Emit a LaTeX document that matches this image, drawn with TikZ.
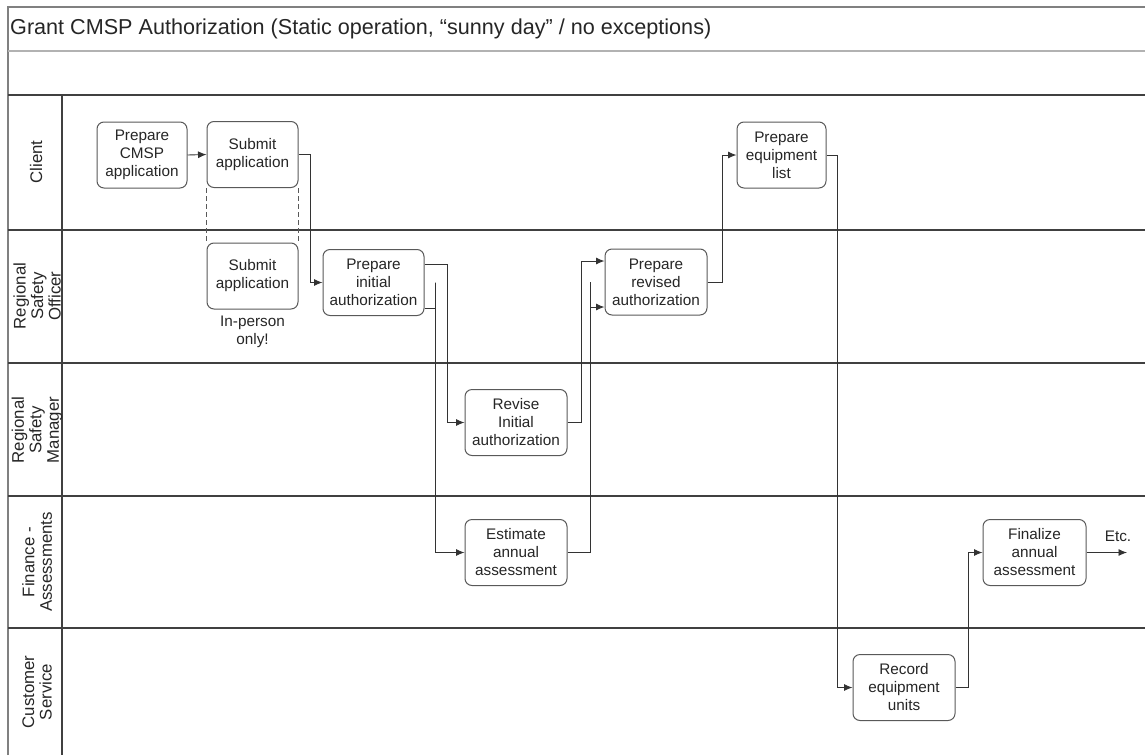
\documentclass[tikz,border=0pt]{standalone}
\usepackage{fontspec}
\setmainfont{Liberation Sans}
\usetikzlibrary{arrows.meta,calc}
\begin{document}
\begin{tikzpicture}[x=1pt,y=-1pt,
  txt/.style={text=black!85, font=\fontsize{15.3}{18}\selectfont},
  proc/.style={txt, draw=black!65, line width=1pt, rounded corners=7pt, fill=white,
     align=center, inner sep=0pt, minimum width=#1, minimum height=66pt},
  proc/.default=102pt,
  flow/.style={draw=black!80, line width=0.9pt, -{Latex[length=8.5pt,width=7pt]}},
  lane/.style={draw=black!75, line width=1.6pt},
  lanelabel/.style={txt, font=\fontsize{16.8}{17.5}\selectfont, rotate=90, align=center}
]
\useasboundingbox (0,0) rectangle (1145,755);
% frame and lanes
\draw[draw=black!50, line width=1.5pt] (8,755) -- (8,7) -- (1145,7);
\draw[draw=black!30, line width=2pt] (8,51) -- (1145,51);
\draw[lane] (8,95) -- (1145,95);
\draw[lane] (8,230) -- (1145,230);
\draw[lane] (8,363) -- (1145,363);
\draw[lane] (8,496) -- (1145,496);
\draw[lane] (8,628) -- (1145,628);
\draw[draw=black!75, line width=1.2pt] (62,95) -- (62,755);
\node[txt, font=\fontsize{21.6}{23}\selectfont, anchor=west, inner sep=0pt] (title) at (10,29)
  {Grant CMSP Authorization (Static operation, “sunny day” / no exceptions)};
% lane labels
\node[lanelabel] (lclient) at (36,162) {Client};
\node[lanelabel] (lrso) at (37,296) {Regional\\Safety\\Officer};
\node[lanelabel] (lrsm) at (37,430) {Regional\\Safety\\Manager};
\node[lanelabel] (lfin) at (37,562) {Finance -\\Assessments};
\node[lanelabel] (lcs) at (37,692) {Customer\\Service};
% process boxes
\node[proc=90pt] (pca) at (142,155) {Prepare\\CMSP\\application};
\node[proc=91pt] (sa1) at (252.5,154.5) {Submit\\application};
\node[proc=91pt] (sa2) at (252.5,276) {Submit\\application};
\node[txt, align=center] (inp) at (252.5,332) {In-person\\only!};
\node[proc=101pt] (pia) at (373.5,282.5) {Prepare\\initial\\authorization};
\node[proc=102pt] (pra) at (656,282) {Prepare\\revised\\authorization};
\node[proc=89pt] (pel) at (781.5,155) {Prepare\\equipment\\list};
\node[proc=102pt] (ria) at (516,422.5) {Revise\\Initial\\authorization};
\node[proc=102pt] (eaa) at (516,552.5) {Estimate\\annual\\assessment};
\node[proc=102pt] (reu) at (904,687.5) {Record\\equipment\\units};
\node[proc=103pt] (faa) at (1034.5,552.5) {Finalize\\annual\\assessment};
\coordinate (etc) at (1127,552.5);
\node[txt] (etctxt) at (1118,536) {Etc.};
% dashed link between the two submit boxes
\draw[draw=black!65, line width=0.8pt, dash pattern=on 5pt off 3pt] (sa1.south west) -- (sa2.north west);
\draw[draw=black!65, line width=0.8pt, dash pattern=on 5pt off 3pt] (sa1.south east) -- (sa2.north east);
% connectors
\draw[flow] (pca.east) -- (sa1.west);
\draw[flow] (sa1.east) -- ++(12,0) |- (pia.west);
\draw[flow] ($(pia.east)+(0,-18.5)$) -| ($(pia.east)+(23,0)$) |- (ria.west);
\draw[flow] ($(pia.east)+(0,25.5)$) -| ($(pia.east)+(11,0)$) |- (eaa.west);
\draw[flow] (ria.east) -| ($(pra.west)+(-23,0)$) |- ($(pra.west)+(0,-21)$);
\draw[flow] (eaa.east) -| ($(pra.west)+(-14,0)$) |- ($(pra.west)+(0,25)$);
\draw[flow] (pra.east) -- ++(15,0) |- (pel.west);
\draw[flow] (pel.east) -- ++(11,0) |- (reu.west);
\draw[flow] (reu.east) -- ++(13,0) |- (faa.west);
\draw[flow] (faa.east) -- (etc);
\end{tikzpicture}
\end{document}
